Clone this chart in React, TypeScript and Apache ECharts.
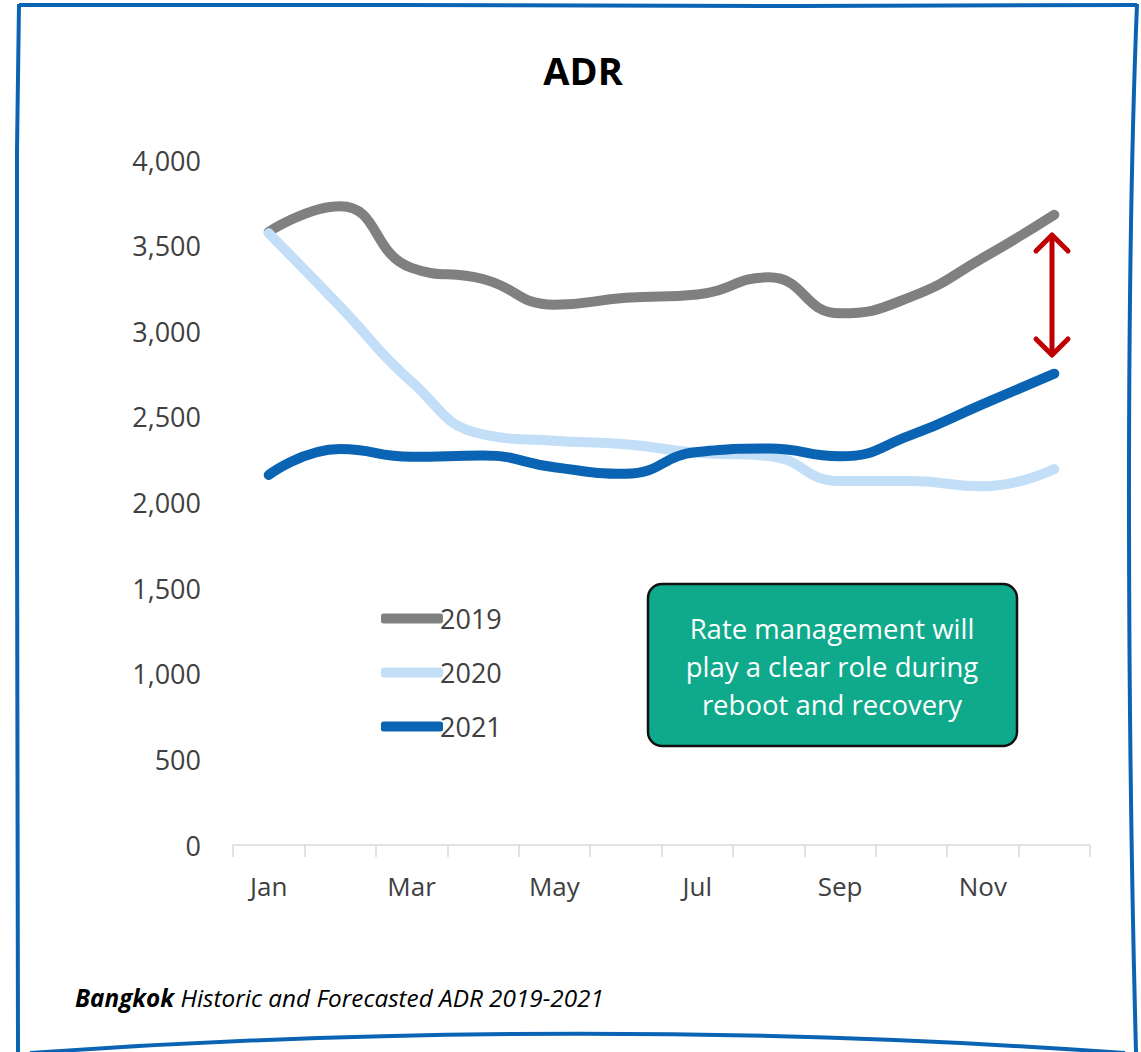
import React, { useEffect, useRef } from "react";
import * as echarts from "echarts";

const months = ["Jan", "Feb", "Mar", "Apr", "May", "Jun", "Jul", "Aug", "Sep", "Oct", "Nov", "Dec"];
const seriesNames = ["2019", "2020", "2021"];
const adr2019 = [3580, 3730, 3370, 3305, 3155, 3195, 3215, 3315, 3105, 3202, 3428, 3680];
const adr2020 = [3572, 3145, 2705, 2398, 2360, 2340, 2290, 2272, 2125, 2125, 2095, 2195];
const adr2021 = [2160, 2312, 2267, 2274, 2206, 2168, 2295, 2315, 2270, 2395, 2575, 2752];
const lineColors = ["#808080", "#c3dff8", "#0b64b3"];
const yTicks = { min: 0, max: 4000, interval: 500 };

const titleText = "ADR";
const noteLines = ["Rate management will", "play a clear role during", "reboot and recovery"];
const footerBold = "Bangkok";
const footerRest = " Historic and Forecasted ADR 2019-2021";

const FONT = "'Open Sans', 'Noto Sans', sans-serif";

export default function App() {
  const ref = useRef<HTMLDivElement>(null);
  useEffect(() => {
    if (!ref.current) return;
    const chart = echarts.init(ref.current, undefined, { renderer: "svg" });
    const data = [adr2019, adr2020, adr2021];
    const border = "#0b64b3";
    chart.setOption({
      animation: false,
      backgroundColor: "#ffffff",
      title: {
        text: titleText,
        left: 578,
        textAlign: "center",
        top: 46,
        textStyle: { fontFamily: FONT, fontSize: 38, fontWeight: "bold", color: "#000" },
      },
      legend: {
        orient: "vertical",
        left: 376,
        top: 600,
        itemWidth: 62,
        itemHeight: 10,
        itemGap: 27,
        icon: "roundRect",
        data: seriesNames,
        textStyle: { fontFamily: FONT, fontSize: 27, color: "#404040", padding: [0, 0, 0, -8] },
      },
      grid: { left: 233, right: 51, top: 160, bottom: 207, containLabel: false },
      xAxis: {
        type: "category",
        data: months,
        boundaryGap: true,
        axisLine: { lineStyle: { color: "#d9d9d9", width: 1.5 } },
        axisTick: { show: true, interval: 0, length: 12, lineStyle: { color: "#d9d9d9", width: 1.5 } },
        axisLabel: { interval: 1, margin: 28, fontFamily: FONT, fontSize: 26, color: "#404040" },
        splitLine: { show: false },
      },
      yAxis: {
        type: "value",
        min: yTicks.min,
        max: yTicks.max,
        interval: yTicks.interval,
        axisLine: { show: false },
        axisTick: { show: false },
        splitLine: { show: false },
        axisLabel: {
          margin: 32,
          fontFamily: FONT,
          fontSize: 27,
          color: "#404040",
          formatter: (v: number) => v.toLocaleString("en-US"),
        },
      },
      series: seriesNames.map((name, i) => ({
        name,
        type: "line",
        data: data[i],
        smooth: 0.5,
        showSymbol: false,
        symbol: "none",
        color: lineColors[i],
        itemStyle: { color: lineColors[i] },
        lineStyle: { color: lineColors[i], width: 10, cap: "round", join: "round" },
        z: 2 + i,
      })),
      graphic: [
        // hand-drawn frame
        {
          type: "polyline",
          shape: { points: [[19, 5], [400, 5], [800, 6], [1137, 5]] },
          style: { stroke: border, lineWidth: 4, fill: null },
        },
        {
          type: "polyline",
          shape: { points: [[19, 4], [17, 150], [17, 500], [18, 1052]] },
          style: { stroke: border, lineWidth: 4, fill: null },
        },
        {
          type: "bezierCurve",
          shape: { x1: 1137, y1: 4, cpx1: 1125, cpy1: 300, cpx2: 1128, cpy2: 750, x2: 1136, y2: 1052 },
          style: { stroke: border, lineWidth: 4, fill: null },
        },
        {
          type: "bezierCurve",
          shape: { x1: 30, y1: 1053, cpx1: 400, cpy1: 1027, cpx2: 760, cpy2: 1027, x2: 1125, y2: 1053 },
          style: { stroke: border, lineWidth: 4, fill: null },
        },
        // red double arrow
        {
          type: "polyline",
          shape: { points: [[1052, 236], [1052, 354]] },
          style: { stroke: "#c00000", lineWidth: 5, lineCap: "round", fill: null },
          z: 20,
        },
        {
          type: "polyline",
          shape: { points: [[1036, 251], [1052, 235], [1068, 251]] },
          style: { stroke: "#c00000", lineWidth: 5, lineCap: "round", lineJoin: "round", fill: null },
          z: 20,
        },
        {
          type: "polyline",
          shape: { points: [[1036, 339], [1052, 355], [1068, 339]] },
          style: { stroke: "#c00000", lineWidth: 5, lineCap: "round", lineJoin: "round", fill: null },
          z: 20,
        },
        // annotation box
        {
          type: "rect",
          shape: { x: 648, y: 584, width: 369, height: 162, r: 14 },
          style: { fill: "#0fa98b", stroke: "#111111", lineWidth: 2.5 },
          z: 20,
        },
        {
          type: "text",
          x: 832,
          y: 666,
          style: {
            text: noteLines.join("\n"),
            fill: "#ffffff",
            fontFamily: FONT,
            fontSize: 27.5,
            lineHeight: 38,
            align: "center",
            verticalAlign: "middle",
          },
          z: 21,
        },
        // footer
        {
          type: "text",
          x: 75,
          y: 997,
          style: {
            text: `{b|${footerBold}}{i|${footerRest}}`,
            fill: "#000",
            verticalAlign: "middle",
            rich: {
              b: { fontFamily: FONT, fontSize: 24.3, fontWeight: "bold", fontStyle: "italic", fill: "#000" },
              i: { fontFamily: FONT, fontSize: 24.3, fontStyle: "italic", fill: "#000" },
            },
          },
          z: 20,
        },
      ],
    });
    return () => chart.dispose();
  }, []);
  return (
    <div
      ref={ref}
      style={{ position: "fixed", left: 0, top: 0, width: 1141, height: 1052, background: "#fff" }}
    />
  );
}
